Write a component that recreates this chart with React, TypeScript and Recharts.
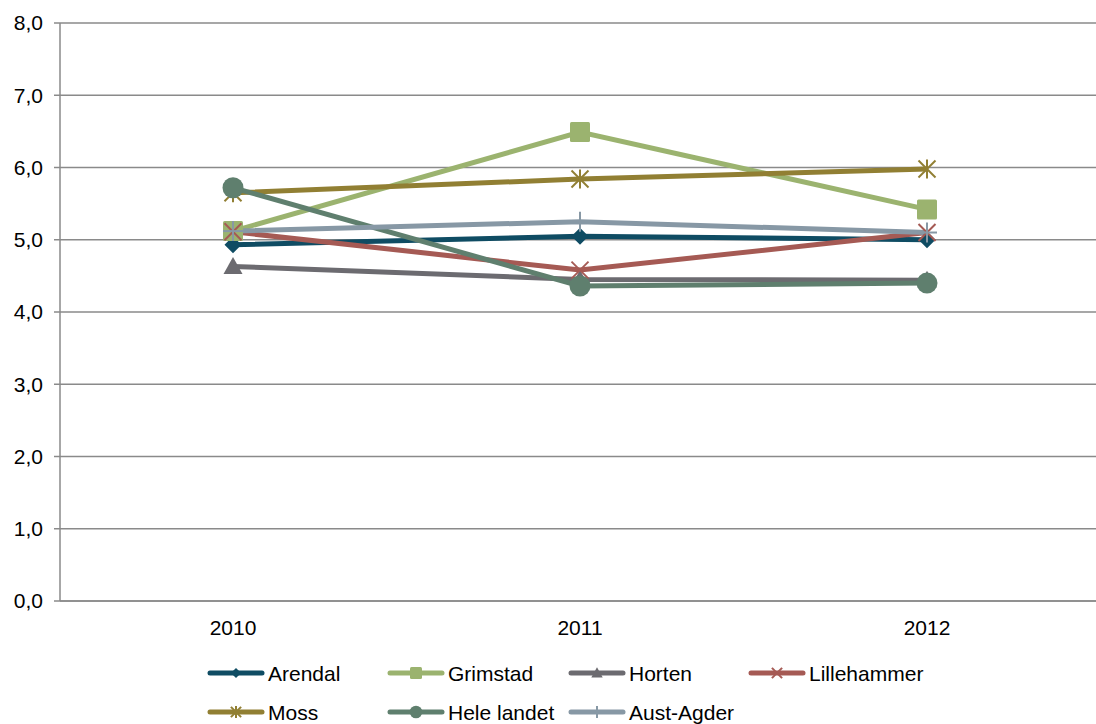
import React from "react";
import {
  LineChart,
  Line,
  XAxis,
  YAxis,
  CartesianGrid,
  Legend
} from "recharts";

const years = ["2010", "2011", "2012"];
const yTicks = [0, 1, 2, 3, 4, 5, 6, 7, 8];

const arendal = [4.93, 5.05, 5.0];
const grimstad = [5.12, 6.49, 5.42];
const horten = [4.63, 4.45, 4.44];
const lillehammer = [5.11, 4.58, 5.1];
const moss = [5.65, 5.84, 5.98];
const heleLandet = [5.72, 4.36, 4.4];
const austAgder = [5.12, 5.25, 5.1];

type Shape = "diamond" | "square" | "triangle" | "x" | "star" | "circle" | "plus";

const SERIES: { key: string; name: string; values: number[]; color: string; shape: Shape }[] = [
  { key: "arendal", name: "Arendal", values: arendal, color: "#0F4C63", shape: "diamond" },
  { key: "grimstad", name: "Grimstad", values: grimstad, color: "#9BB36F", shape: "square" },
  { key: "horten", name: "Horten", values: horten, color: "#6C6B70", shape: "triangle" },
  { key: "lillehammer", name: "Lillehammer", values: lillehammer, color: "#A55A54", shape: "x" },
  { key: "moss", name: "Moss", values: moss, color: "#917F33", shape: "star" },
  { key: "hele", name: "Hele landet", values: heleLandet, color: "#5F7F6E", shape: "circle" },
  { key: "aust", name: "Aust-Agder", values: austAgder, color: "#8798A5", shape: "plus" }
];

const data = years.map((year, i) => {
  const row: Record<string, string | number> = { year };
  SERIES.forEach(s => (row[s.key] = s.values[i]));
  return row;
});

const GRID = "#8a8a8a";
const FONT = "Arial, 'Liberation Sans', sans-serif";

function marker(shape: Shape, color: string, cx: number, cy: number, k = 1) {
  switch (shape) {
    case "diamond": {
      const h = 8.5 * k;
      return <polygon points={`${cx},${cy - h} ${cx + h},${cy} ${cx},${cy + h} ${cx - h},${cy}`} fill={color} />;
    }
    case "square": {
      const h = 10 * k;
      return <rect x={cx - h} y={cy - h} width={2 * h} height={2 * h} rx={1.5} fill={color} />;
    }
    case "triangle": {
      const h = 9.5 * k;
      return <polygon points={`${cx},${cy - h} ${cx + h},${cy + h * 0.8} ${cx - h},${cy + h * 0.8}`} fill={color} />;
    }
    case "x": {
      const h = 8.5 * k;
      return (
        <g stroke={color} strokeWidth={2}>
          <line x1={cx - h} y1={cy - h} x2={cx + h} y2={cy + h} />
          <line x1={cx - h} y1={cy + h} x2={cx + h} y2={cy - h} />
        </g>
      );
    }
    case "star": {
      const h = 8.5 * k;
      return (
        <g stroke={color} strokeWidth={2}>
          <line x1={cx - h} y1={cy - h} x2={cx + h} y2={cy + h} />
          <line x1={cx - h} y1={cy + h} x2={cx + h} y2={cy - h} />
          <line x1={cx} y1={cy - h - 1} x2={cx} y2={cy + h + 1} />
        </g>
      );
    }
    case "circle":
      return <circle cx={cx} cy={cy} r={10.5 * k} fill={color} />;
    case "plus": {
      const h = 10 * k;
      return (
        <g stroke={color} strokeWidth={2}>
          <line x1={cx - h} y1={cy} x2={cx + h} y2={cy} />
          <line x1={cx} y1={cy - h} x2={cx} y2={cy + h} />
        </g>
      );
    }
  }
}

const makeDot = (shape: Shape, color: string) => (props: any) => {
  const { cx, cy, index } = props;
  if (cx == null || cy == null) return <g key={index} />;
  return <g key={index}>{marker(shape, color, cx, cy)}</g>;
};

const LEGEND_COLS = [208, 388, 569, 749];

function LegendContent() {
  return (
    <svg width={1096} height={64} style={{ display: "block", overflow: "visible" }}>
      {SERIES.map((s, i) => {
        const row = i < 4 ? 0 : 1;
        const col = i < 4 ? i : i - 4;
        const x = LEGEND_COLS[col];
        const y = 13 + row * 39;
        return (
          <g key={s.key}>
            <line x1={x + 2} y1={y} x2={x + 54} y2={y} stroke={s.color} strokeWidth={5} strokeLinecap="round" />
            {marker(s.shape, s.color, x + 28, y, 0.6)}
            <text x={x + 60} y={y + 7.5} fontFamily={FONT} fontSize={21} fill="#000">
              {s.name}
            </text>
          </g>
        );
      })}
    </svg>
  );
}

export default function App() {
  return (
    <div style={{ position: "absolute", left: 0, top: 0, width: 1096, height: 724, background: "#fff" }}>
      <LineChart width={1096} height={724} data={data} margin={{ top: 23, right: 0, bottom: 93, left: 0 }}>
        <CartesianGrid vertical={false} stroke={GRID} strokeWidth={1.5} />
        <XAxis
          dataKey="year"
          padding={{ left: 173, right: 169 }}
          axisLine={{ stroke: GRID, strokeWidth: 1.5 }}
          tickLine={false}
          tick={{ fill: "#000", fontSize: 21, fontFamily: FONT }}
          tickMargin={13}
          height={30}
        />
        <XAxis
          xAxisId="bounds"
          type="number"
          domain={[0, 3]}
          ticks={[0, 1, 2, 3]}
          axisLine={false}
          tick={false}
          tickLine={{ stroke: GRID, strokeWidth: 1.5 }}
          tickSize={6}
          height={0}
        />
        <YAxis
          domain={[0, 8]}
          ticks={yTicks}
          width={60}
          axisLine={{ stroke: GRID, strokeWidth: 1.5 }}
          tickLine={{ stroke: GRID, strokeWidth: 1.5 }}
          tickSize={6}
          tickMargin={11}
          tick={{ fill: "#000", fontSize: 21, fontFamily: FONT }}
          tickFormatter={(v: number) => v.toFixed(1).replace(".", ",")}
        />
        {SERIES.map(s => (
          <Line
            key={s.key}
            dataKey={s.key}
            name={s.name}
            stroke={s.color}
            strokeWidth={5}
            dot={makeDot(s.shape, s.color)}
            activeDot={false}
            isAnimationActive={false}
          />
        ))}
        <Legend
          verticalAlign="middle"
          align="center"
          content={() => <LegendContent />}
          wrapperStyle={{ top: 660, left: 0, width: 1096 }}
        />
      </LineChart>
    </div>
  );
}
